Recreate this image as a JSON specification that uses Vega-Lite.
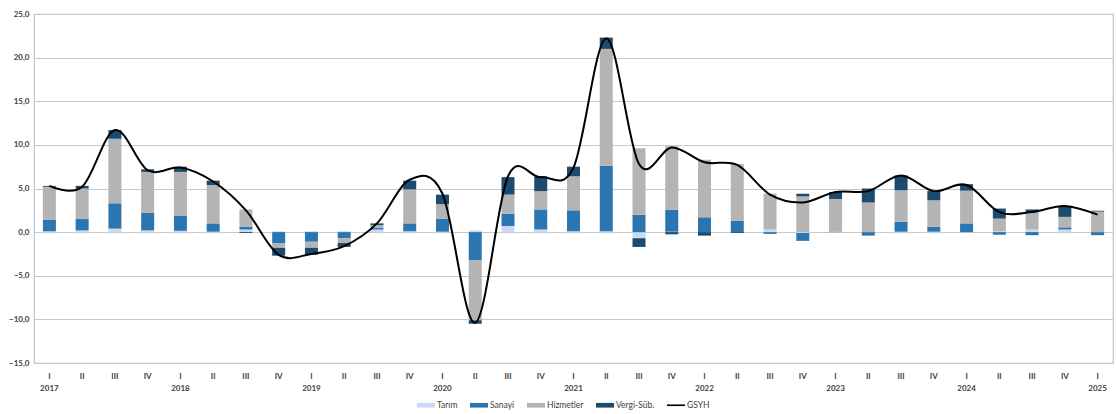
{
  "$schema": "https://vega.github.io/schema/vega-lite/v6.json",
  "width": 1079,
  "height": 349,
  "autosize": {"type": "none"},
  "padding": {"left": 34, "top": 14, "right": 3, "bottom": 51},
  "config": {
    "view": {"stroke": "#b9c4cf", "strokeWidth": 1.2},
    "font": "Lato",
    "axis": {"labelFont": "Lato", "labelColor": "#404040", "labelFontWeight": "bold", "labelFontSize": 8}
  },
  "data": {
    "values": [
      {"donem": "2017-I", "tarim": 0.1, "sanayi": 1.3, "hizmetler": 3.8, "vergi": 0.1, "GSYH": 5.3},
      {"donem": "2017-II", "tarim": 0.2, "sanayi": 1.3, "hizmetler": 3.5, "vergi": 0.3, "GSYH": 5.2},
      {"donem": "2017-III", "tarim": 0.4, "sanayi": 2.9, "hizmetler": 7.4, "vergi": 1.0, "GSYH": 11.7},
      {"donem": "2017-IV", "tarim": 0.2, "sanayi": 2.0, "hizmetler": 4.7, "vergi": 0.3, "GSYH": 7.1},
      {"donem": "2018-I", "tarim": 0.15, "sanayi": 1.75, "hizmetler": 5.0, "vergi": 0.6, "GSYH": 7.4},
      {"donem": "2018-II", "tarim": 0.05, "sanayi": 0.95, "hizmetler": 4.4, "vergi": 0.5, "GSYH": 5.8},
      {"donem": "2018-III", "tarim": 0.3, "sanayi": 0.3, "hizmetler": 2.0, "vergi": -0.1, "GSYH": 2.5},
      {"donem": "2018-IV", "tarim": 0.1, "sanayi": -1.3, "hizmetler": -0.5, "vergi": -0.9, "GSYH": -2.6},
      {"donem": "2019-I", "tarim": 0.1, "sanayi": -1.1, "hizmetler": -0.7, "vergi": -0.8, "GSYH": -2.5},
      {"donem": "2019-II", "tarim": 0.1, "sanayi": -0.7, "hizmetler": -0.55, "vergi": -0.45, "GSYH": -1.6},
      {"donem": "2019-III", "tarim": 0.3, "sanayi": 0.2, "hizmetler": 0.3, "vergi": 0.2, "GSYH": 1.0},
      {"donem": "2019-IV", "tarim": 0.1, "sanayi": 0.9, "hizmetler": 3.9, "vergi": 1.0, "GSYH": 6.0},
      {"donem": "2020-I", "tarim": 0.05, "sanayi": 1.5, "hizmetler": 1.65, "vergi": 1.1, "GSYH": 4.4},
      {"donem": "2020-II", "tarim": 0.2, "sanayi": -3.2, "hizmetler": -6.9, "vergi": -0.4, "GSYH": -10.4},
      {"donem": "2020-III", "tarim": 0.7, "sanayi": 1.4, "hizmetler": 2.2, "vergi": 2.0, "GSYH": 6.4},
      {"donem": "2020-IV", "tarim": 0.3, "sanayi": 2.3, "hizmetler": 2.1, "vergi": 1.7, "GSYH": 6.3},
      {"donem": "2021-I", "tarim": 0.1, "sanayi": 2.4, "hizmetler": 3.9, "vergi": 1.1, "GSYH": 7.4},
      {"donem": "2021-II", "tarim": 0.1, "sanayi": 7.5, "hizmetler": 13.4, "vergi": 1.3, "GSYH": 22.2},
      {"donem": "2021-III", "tarim": -0.7, "sanayi": 2.0, "hizmetler": 7.6, "vergi": -1.0, "GSYH": 7.8},
      {"donem": "2021-IV", "tarim": 0.05, "sanayi": 2.5, "hizmetler": 7.3, "vergi": -0.25, "GSYH": 9.7},
      {"donem": "2022-I", "tarim": 0.0, "sanayi": 1.7, "hizmetler": 6.6, "vergi": -0.4, "GSYH": 8.0},
      {"donem": "2022-II", "tarim": 0.0, "sanayi": 1.3, "hizmetler": 6.5, "vergi": -0.1, "GSYH": 7.7},
      {"donem": "2022-III", "tarim": 0.3, "sanayi": -0.2, "hizmetler": 4.1, "vergi": 0.0, "GSYH": 4.3},
      {"donem": "2022-IV", "tarim": -0.1, "sanayi": -0.9, "hizmetler": 4.1, "vergi": 0.3, "GSYH": 3.4},
      {"donem": "2023-I", "tarim": 0.0, "sanayi": 0.05, "hizmetler": 3.75, "vergi": 0.8, "GSYH": 4.6},
      {"donem": "2023-II", "tarim": 0.0, "sanayi": -0.4, "hizmetler": 3.4, "vergi": 1.6, "GSYH": 4.7},
      {"donem": "2023-III", "tarim": 0.05, "sanayi": 1.15, "hizmetler": 3.6, "vergi": 1.7, "GSYH": 6.5},
      {"donem": "2023-IV", "tarim": 0.05, "sanayi": 0.55, "hizmetler": 3.05, "vergi": 1.05, "GSYH": 4.7},
      {"donem": "2024-I", "tarim": 0.0, "sanayi": 1.0, "hizmetler": 3.75, "vergi": 0.75, "GSYH": 5.4},
      {"donem": "2024-II", "tarim": 0.1, "sanayi": -0.3, "hizmetler": 1.45, "vergi": 1.15, "GSYH": 2.3},
      {"donem": "2024-III", "tarim": 0.3, "sanayi": -0.35, "hizmetler": 2.0, "vergi": 0.3, "GSYH": 2.3},
      {"donem": "2024-IV", "tarim": 0.3, "sanayi": 0.25, "hizmetler": 1.2, "vergi": 1.25, "GSYH": 3.0},
      {"donem": "2025-I", "tarim": 0.0, "sanayi": -0.35, "hizmetler": 2.35, "vergi": 0.1, "GSYH": 2.0}
    ]
  },
  "layer": [
    {
      "transform": [
        {"fold": ["tarim", "sanayi", "hizmetler", "vergi"], "as": ["bilesen", "katki"]},
        {"calculate": "indexof(['tarim','sanayi','hizmetler','vergi'], datum.bilesen)", "as": "sira"}
      ],
      "mark": {"type": "bar", "width": 13},
      "encoding": {
        "x": {
          "field": "donem", "type": "nominal", "sort": null,
          "scale": {"paddingInner": 0.6, "paddingOuter": 0.27},
          "axis": {
            "title": null, "labelAngle": 0, "ticks": false, "domain": false, "grid": false,
            "labelPadding": 9, "labelLineHeight": 12, "labelBaseline": "top",
            "labelExpr": "split(datum.value,'-')[1] == 'I' ? [split(datum.value,'-')[1], split(datum.value,'-')[0]] : split(datum.value,'-')[1]"
          }
        },
        "y": {
          "field": "katki", "type": "quantitative", "stack": "zero",
          "scale": {"domain": [-15, 25], "nice": false},
          "axis": {
            "title": null, "values": [-15, -10, -5, 0, 5, 10, 15, 20, 25],
            "ticks": false, "domain": false, "grid": true, "gridColor": "#c8c8c8", "gridWidth": 1,
            "labelPadding": 5,
            "labelExpr": "replace(format(datum.value, '.1f'), '.', ',')"
          }
        },
        "color": {
          "field": "bilesen", "type": "nominal",
          "scale": {
            "domain": ["tarim", "sanayi", "hizmetler", "vergi", "GSYH"],
            "range": ["#c9daf3", "#2b75b1", "#b4b4b4", "#1c4b70", "#000000"]
          },
          "legend": {
            "title": null, "orient": "none", "legendX": 383, "legendY": 382, "direction": "horizontal",
            "symbolSize": 324, "labelFontSize": 8.5, "labelFont": "Lato", "labelColor": "#404040",
            "labelOffset": 2, "columnPadding": 12, "padding": 0,
            "labelExpr": "{'tarim':'Tarım','sanayi':'Sanayi','hizmetler':'Hizmetler','vergi':'Vergi-Süb.','GSYH':'GSYH'}[datum.label]",
            "encode": {
              "symbols": {
                "update": {
                  "shape": {"signal": "datum.value === 'GSYH' ? 'M-1,-0.09H1V0.09H-1Z' : 'M-1,-0.26H1V0.26H-1Z'"},
                  "fill": {"signal": "scale('color', datum.value)"},
                  "fillOpacity": {"value": 1},
                  "strokeWidth": {"value": 0}
                }
              }
            }
          }
        },
        "order": {"field": "sira"}
      }
    },
    {
      "mark": {"type": "line", "interpolate": "cardinal", "strokeWidth": 2},
      "encoding": {
        "x": {"field": "donem", "type": "nominal", "sort": null},
        "y": {"field": "GSYH", "type": "quantitative"},
        "color": {"datum": "GSYH"}
      }
    }
  ]
}
